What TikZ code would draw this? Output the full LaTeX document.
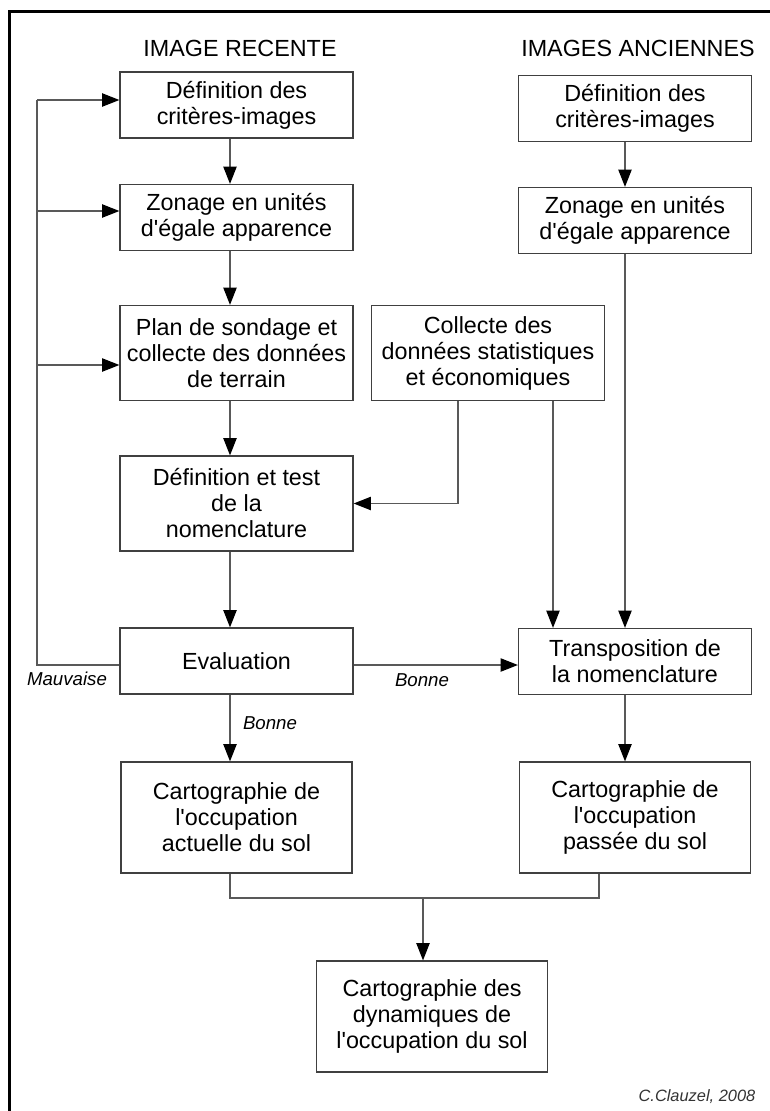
\documentclass[tikz,border=0pt]{standalone}
\usepackage{fontspec}
\setmainfont{Liberation Sans}
\usepackage{tikz}
\usetikzlibrary{positioning, arrows.meta}

\begin{document}
\begin{tikzpicture}
[
    x=0.75pt, y=-0.75pt, auto,
    % The strategy is to place the boxes at pixel coordinates of the scan
    % Left column: image recente, right column: images anciennes
    font=\fontsize{17.5}{19.5}\selectfont
]

%=================================== Start ===================================
\tikzstyle{box}  = [draw=black!75, line width=0.9pt, align=center, shape=rectangle,
                    inner sep=0pt, minimum width=174.75pt, minimum height=49.5pt]
\tikzstyle{tall} = [box, minimum height=71.25pt]
\tikzstyle{big}  = [box, minimum width=173.25pt, minimum height=83.25pt]
\tikzstyle{line} = [draw=black!65, line width=0.9pt]
\tikzstyle{arr}  = [line, -{Triangle[length=13pt, width=10pt, color=black]}]
\tikzstyle{lab}  = [font=\fontsize{14}{16}\selectfont\itshape, inner sep=0pt]

\newcommand{\q}{\textquotesingle}

\useasboundingbox (0,0) rectangle (770,1111);
\draw[line width=2.25pt, black] (9,1111) -- (9,11) -- (770,11);

{
    % Column titles
    \node (titleR) at (240,48) {IMAGE RECENTE};
    \node (titleA) at (638,48) {IMAGES ANCIENNES};

    % Left column
    \node[box]  (defR)  at (236.5,105)   {Définition des\\critères-images};
    \node[box]  (zonR)  at (236.5,217.5) {Zonage en unités\\d\q égale apparence};
    \node[tall] (plan)  at (236.5,353)   {Plan de sondage et\\collecte des données\\de terrain};
    \node[tall] (nomR)  at (236.5,503.5) {Définition et test\\de la\\nomenclature};
    \node[box]  (eval)  at (236.5,661)   {Evaluation};
    \node[big]  (cartR) at (236.5,817.5) {Cartographie de\\l\q occupation\\actuelle du sol};

    % Right column
    \node[box]  (defA)  at (635,108.5)   {Définition des\\critères-images};
    \node[box]  (zonA)  at (635,220.5)   {Zonage en unités\\d\q égale apparence};
    \node[tall] (coll)  at (488,353)     {Collecte des\\données statistiques\\et économiques};
    \node[box]  (trans) at (635,661.5)   {Transposition de\\la nomenclature};
    \node[big]  (cartA) at (635,817.5)   {Cartographie de\\l\q occupation\\passée du sol};

    % Result
    \node[big]  (dyn)   at (432,1016.5)  {Cartographie des\\dynamiques de\\l\q occupation du sol};

    % helper coordinates for the vertical connectors
    \coordinate (colL) at (230,0);
    \coordinate (colR) at (625,0);
    \coordinate (cL)   at (458,0);
    \coordinate (cR)   at (553,0);
    \coordinate (fbE)  at (37,665);
    \coordinate (fbT)  at (37,100);
    \coordinate (jL)   at (230,898);
    \coordinate (jR)   at (599,898);
    \coordinate (jM)   at (423,898);

    % vertical connections, left column
    \draw[arr] (defR.south -| colL) -- (zonR.north -| colL);
    \draw[arr] (zonR.south -| colL) -- (plan.north -| colL);
    \draw[arr] (plan.south -| colL) -- (nomR.north -| colL);
    \draw[arr] (nomR.south -| colL) -- (eval.north -| colL);
    \draw[arr] (eval.south -| colL) -- (cartR.north -| colL);
    \node[lab] (bonneD) at (270,723) {Bonne};

    % vertical connections, right column
    \draw[arr] (defA.south -| colR) -- (zonA.north -| colR);
    \draw[arr] (zonA.south -| colR) -- (trans.north -| colR);
    \draw[arr] (coll.south -| cR) -- (trans.north -| cR);
    \draw[arr] (trans.south -| colR) -- (cartA.north -| colR);
    \draw[arr] (coll.south -| cL) -- (cL |- nomR.east) -- (nomR.east);

    % evaluation: good goes right, bad goes back up
    \draw[arr] (eval.east |- fbE) -- (trans.west |- fbE);
    \node[lab] (bonneR) at (422,680) {Bonne};
    \draw[line] (eval.west |- fbE) -- (fbE) -- (fbT);
    \node[lab] (mauv) at (67,679) {Mauvaise};
    \foreach \nd / \yy in {defR/100, zonR/211, plan/365}
        \draw[arr] (37,\yy) -- (\nd.west |- 0,\yy);

    % join of both maps
    \draw[line] (cartR.south -| jL) -- (jL) -- (jR) -- (cartA.south -| jR);
    \draw[arr] (jM) -- (dyn.north -| jM);

    \node[font=\fontsize{12.3}{14}\selectfont\itshape, text=black!80, anchor=east]
        (credit) at (760,1097) {C.Clauzel, 2008};
}
%==================================== END ====================================

\end{tikzpicture}
\end{document}
